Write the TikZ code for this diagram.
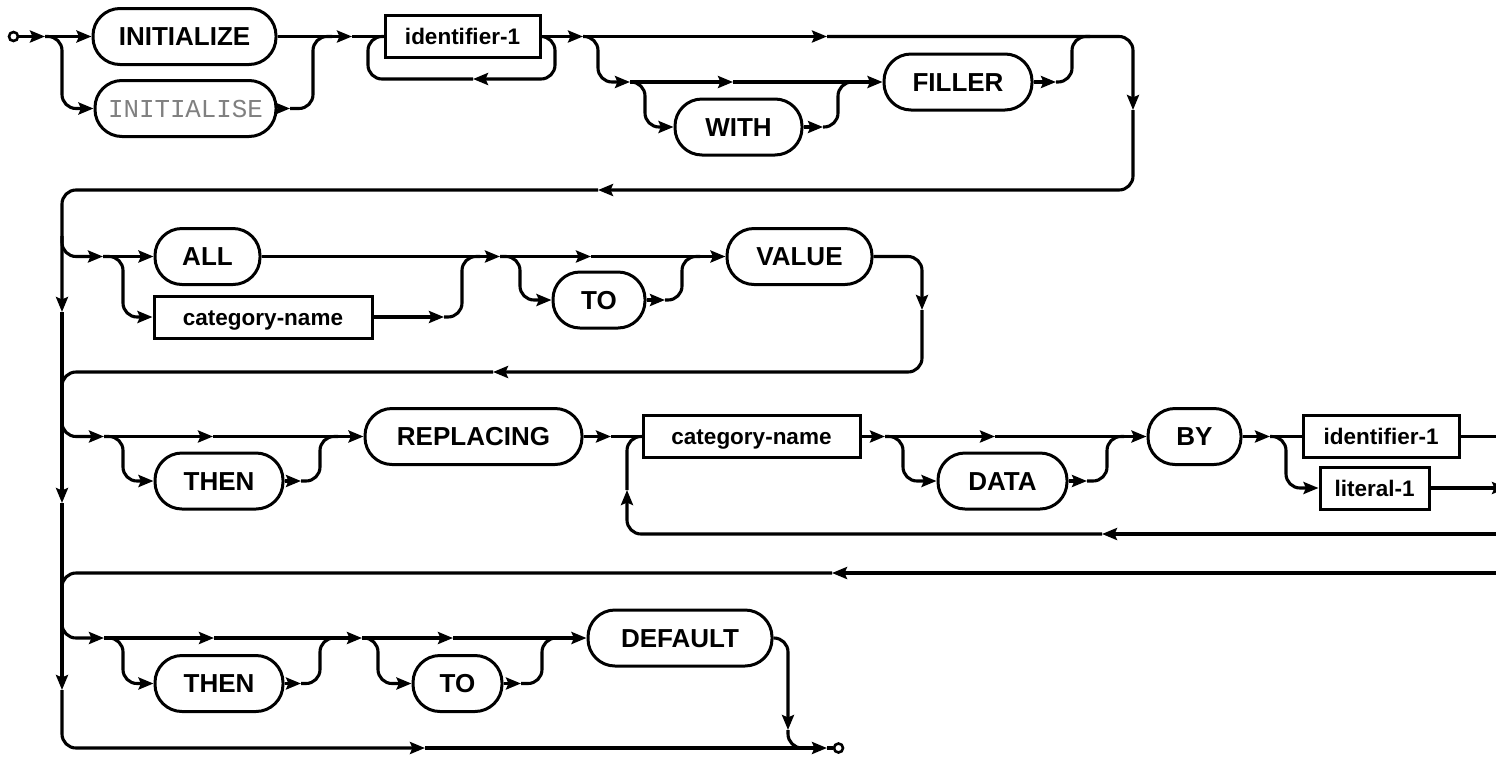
\documentclass[tikz,border=0pt]{standalone}
\usepackage{fontspec}
\newfontfamily\railsans{Liberation Sans}
\newfontfamily\railmono{Liberation Mono}
\usetikzlibrary{arrows.meta}
\tikzset{
  rail/.style={line width=3.1pt, rounded corners=14pt},
  fwd/.style={-{Stealth[length=15pt,width=12pt,inset=2.5pt]}},
  pill/.style={draw, line width=3pt, rounded corners=27pt, minimum height=56pt,
    inner sep=0pt, font=\railsans\bfseries\fontsize{26}{30}\selectfont,
    text height=18.6pt, text depth=0pt},
  gpill/.style={pill, font=\railmono\fontsize{25.8}{30}\selectfont, text=black!50},
  term/.style={draw, line width=3pt, minimum height=42pt, inner sep=0pt,
    font=\railsans\bfseries\fontsize{22.5}{27}\selectfont,
    text height=16.5pt, text depth=0pt},
  dot/.style={circle, draw, line width=2.6pt, minimum size=9pt, inner sep=0pt, fill=white},
}
\begin{document}
\begin{tikzpicture}[x=1pt,y=-1pt]
\useasboundingbox (0,0) rectangle (1496,756);
\clip (0,0) rectangle (1496,756);

% ---------- keywords and operands ----------
\node[pill, minimum width=183pt] (init)   at (184.5,36.5)  {INITIALIZE};
\node[gpill, minimum width=181pt] (inits) at (185.5,108.5) {INITIALISE};
\node[term, minimum width=155pt] (id1)    at (462.5,36.5)  {identifier-1};
\node[pill, minimum width=127pt] (with)   at (738.5,127)   {WITH};
\node[pill, minimum width=148pt] (filler) at (958,82)      {FILLER};
\node[pill, minimum width=105pt] (all)    at (207.5,256.5) {ALL};
\node[term, minimum width=218pt] (cat1)   at (263,317)     {category-name};
\node[pill, minimum width=92pt]  (to1)    at (599,300)     {TO};
\node[pill, minimum width=145pt] (value)  at (799.5,256.5) {VALUE};
\node[pill, minimum width=128pt] (then1)  at (219,481)     {THEN};
\node[pill, minimum width=217pt] (repl)   at (473.5,436.5) {REPLACING};
\node[term, minimum width=217pt] (cat2)   at (751.5,436.5) {category-name};
\node[pill, minimum width=129pt] (data)   at (1002.5,481)  {DATA};
\node[pill, minimum width=93pt]  (by)     at (1194.5,436.5) {BY};
\node[term, minimum width=156pt] (id2)    at (1381,436.5)  {identifier-1};
\node[term, minimum width=109pt] (lit)    at (1374.5,488)  {literal-1};
\node[pill, minimum width=128pt] (then2)  at (219,683.5)   {THEN};
\node[pill, minimum width=89pt]  (to2)    at (457.5,683.5) {TO};
\node[pill, minimum width=184pt] (deflt)  at (680,638)     {DEFAULT};
\node[dot] (beg) at (13.5,36.5) {};
\node[dot] (fin) at (838.5,748) {};

% ---------- junction points ----------
% row 1
\coordinate (a1)  at (45,36.5);
\coordinate (k1)  at (62,108.5);
\coordinate (a2)  at (352,36.5);
\coordinate (a3)  at (290,108.5);
\coordinate (k2)  at (313,36.5);
\coordinate (j1)  at (332,36.5);
\coordinate (l1)  at (555,79);
\coordinate (a5)  at (473,79);
\coordinate (l2)  at (368,36.5);
\coordinate (a4)  at (583,36.5);
\coordinate (k3)  at (598,82);
\coordinate (a8)  at (630,82);
\coordinate (a9)  at (733,82);
\coordinate (k4)  at (645,127);
\coordinate (a10) at (823,127);
\coordinate (k5)  at (838,82);
\coordinate (j2)  at (856,82);
\coordinate (a11) at (1056,82);
\coordinate (k6)  at (1072,36.5);
\coordinate (j3)  at (1090,36.5);
\coordinate (a6)  at (827,36.5);
\coordinate (b7)  at (1133,110);
\coordinate (a7)  at (598,190);
% left spine
\coordinate (v1)  at (62,312);
\coordinate (v2)  at (62,503);
\coordinate (v3)  at (62,690);
\coordinate (v4)  at (425,748);
\coordinate (v5)  at (827,748);
% row 2
\coordinate (u1)  at (62,236);
\coordinate (a12) at (103,256.5);
\coordinate (k7)  at (123,317);
\coordinate (a13) at (444,317);
\coordinate (k8)  at (462,256.5);
\coordinate (j4)  at (480,256.5);
\coordinate (a14) at (500,256.5);
\coordinate (a15) at (591,256.5);
\coordinate (k9)  at (520,300);
\coordinate (a16) at (665,300);
\coordinate (k10) at (682,256.5);
\coordinate (j5)  at (700,256.5);
\coordinate (a17) at (922,310);
\coordinate (a18) at (493,372);
\coordinate (m1)  at (62,400);
% row 3
\coordinate (u2)  at (62,416);
\coordinate (a19) at (104,436.5);
\coordinate (a20) at (213,436.5);
\coordinate (k11) at (123,481);
\coordinate (a21) at (301,481);
\coordinate (k12) at (320,436.5);
\coordinate (j6)  at (338,436.5);
\coordinate (a22) at (611,436.5);
\coordinate (a23) at (885,436.5);
\coordinate (a24) at (995,436.5);
\coordinate (k13) at (903,481);
\coordinate (a25) at (1087,481);
\coordinate (k14) at (1107,436.5);
\coordinate (j7)  at (1124,436.5);
\coordinate (a26) at (1270,436.5);
\coordinate (k15) at (1286,488);
\coordinate (e1)  at (1510,436.5);
\coordinate (a27) at (1507,488);
\coordinate (e2)  at (1510,534);
\coordinate (a28) at (1102,534);
\coordinate (a29) at (627,490);
\coordinate (e3)  at (1510,573);
\coordinate (a30) at (832,573);
\coordinate (m2)  at (62,600);
% row 4
\coordinate (u3)  at (62,618);
\coordinate (a31) at (104,638);
\coordinate (a32) at (214,638);
\coordinate (a33) at (362,638);
\coordinate (a34) at (453,638);
\coordinate (k16) at (123,683.5);
\coordinate (a35) at (301,683.5);
\coordinate (k17) at (320,638);
\coordinate (j8)  at (338,638);
\coordinate (k18) at (378,683.5);
\coordinate (a36) at (521,683.5);
\coordinate (k19) at (542,638);
\coordinate (j9)  at (560,638);
\coordinate (a37) at (788,730);
\coordinate (j10) at (812,748);

% ---------- row 1: INITIALIZE / INITIALISE identifier-1 [WITH] FILLER ----------
\draw[rail,fwd] (beg.east) -- (a1);
\draw[rail,fwd] (a1) -- (init.west);
\draw[rail,fwd] (a1) -| (k1) -- (inits.west);
\draw[rail,fwd] (init.east) -- (a2);
\draw[rail,fwd] (inits.east) -- (a3);
\draw[rail] (a3) -| (k2) -- (j1);
\draw[rail] (a2) -- (id1.west);
\draw[rail,fwd] (id1.east) -- (a4);
\draw[rail,fwd] (id1.east) -| (l1) -- (a5);
\draw[rail] (a5) -| (l2) -- (id1.west);
\draw[rail,fwd] (a4) -- (a6);
\draw[rail,fwd] (a4) -| (k3) -- (a8);
\draw[rail,fwd] (a8) -- (a9);
\draw[rail,fwd] (a9) -- (filler.west);
\draw[rail,fwd] (a8) -| (k4) -- (with.west);
\draw[rail,fwd] (with.east) -- (a10);
\draw[rail] (a10) -| (k5) -- (j2);
\draw[rail,fwd] (filler.east) -- (a11);
\draw[rail] (a11) -| (k6) -- (j3);
\draw[rail,fwd] (a6) -| (b7);
\draw[rail,fwd] (b7) |- (a7);

% ---------- left spine ----------
\draw[rail,fwd] (a7) -| (v1);
\draw[rail,fwd] (v1) -- (v2);
\draw[rail,fwd] (v2) -- (v3);
\draw[rail,fwd] (v3) |- (v4);
\draw[rail,fwd] (v4) -- (v5);
\draw[rail] (v5) -- (fin.west);

% ---------- row 2: ALL / category-name [TO] VALUE ----------
\draw[rail,fwd] (u1) |- (a12);
\draw[rail,fwd] (a12) -- (all.west);
\draw[rail,fwd] (a12) -| (k7) -- (cat1.west);
\draw[rail,fwd] (cat1.east) -- (a13);
\draw[rail] (a13) -| (k8) -- (j4);
\draw[rail,fwd] (all.east) -- (a14);
\draw[rail,fwd] (a14) -- (a15);
\draw[rail,fwd] (a15) -- (value.west);
\draw[rail,fwd] (a14) -| (k9) -- (to1.west);
\draw[rail,fwd] (to1.east) -- (a16);
\draw[rail] (a16) -| (k10) -- (j5);
\draw[rail,fwd] (value.east) -| (a17);
\draw[rail,fwd] (a17) |- (a18);
\draw[rail] (a18) -| (m1);

% ---------- row 3: [THEN] REPLACING category-name [DATA] BY ... ----------
\draw[rail,fwd] (u2) |- (a19);
\draw[rail,fwd] (a19) -- (a20);
\draw[rail,fwd] (a20) -- (repl.west);
\draw[rail,fwd] (a19) -| (k11) -- (then1.west);
\draw[rail,fwd] (then1.east) -- (a21);
\draw[rail] (a21) -| (k12) -- (j6);
\draw[rail,fwd] (repl.east) -- (a22);
\draw[rail] (a22) -- (cat2.west);
\draw[rail,fwd] (cat2.east) -- (a23);
\draw[rail,fwd] (a23) -- (a24);
\draw[rail,fwd] (a24) -- (by.west);
\draw[rail,fwd] (a23) -| (k13) -- (data.west);
\draw[rail,fwd] (data.east) -- (a25);
\draw[rail] (a25) -| (k14) -- (j7);
\draw[rail,fwd] (by.east) -- (a26);
\draw[rail] (a26) -- (id2.west);
\draw[rail,fwd] (a26) -| (k15) -- (lit.west);
\draw[rail] (id2.east) -- (e1);
\draw[rail,fwd] (lit.east) -- (a27);
\draw[rail,fwd] (e2) -- (a28);
\draw[rail,fwd] (a28) -| (a29);
\draw[rail] (a29) |- (cat2.west);
\draw[rail,fwd] (e3) -- (a30);
\draw[rail] (a30) -| (m2);

% ---------- row 4: [THEN] [TO] DEFAULT ----------
\draw[rail,fwd] (u3) |- (a31);
\draw[rail,fwd] (a31) -- (a32);
\draw[rail,fwd] (a32) -- (a33);
\draw[rail,fwd] (a33) -- (a34);
\draw[rail,fwd] (a34) -- (deflt.west);
\draw[rail,fwd] (a31) -| (k16) -- (then2.west);
\draw[rail,fwd] (then2.east) -- (a35);
\draw[rail] (a35) -| (k17) -- (j8);
\draw[rail,fwd] (a33) -| (k18) -- (to2.west);
\draw[rail,fwd] (to2.east) -- (a36);
\draw[rail] (a36) -| (k19) -- (j9);
\draw[rail,fwd] (deflt.east) -| (a37);
\draw[rail] (a37) |- (j10);
\end{tikzpicture}
\end{document}
